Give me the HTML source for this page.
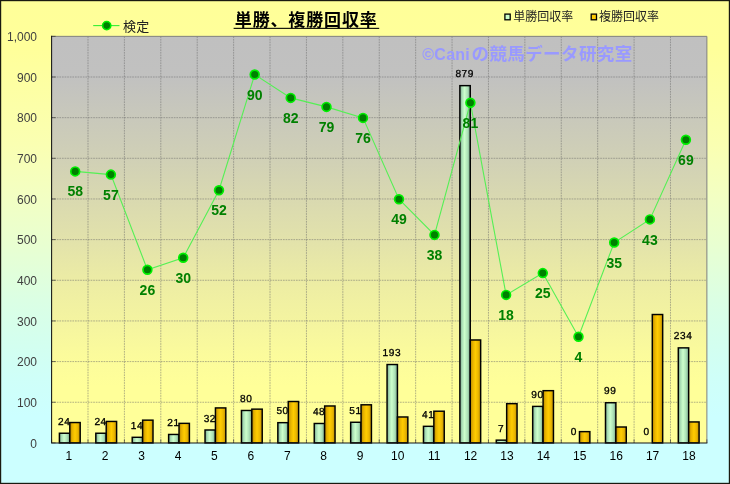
<!DOCTYPE html>
<html><head><meta charset="utf-8"><title>単勝、複勝回収率</title>
<style>
html,body{margin:0;padding:0;background:#fff;}
svg{display:block;will-change:transform;}
text{font-family:"Liberation Sans","Noto Sans CJK JP",sans-serif;}
.yl{font-size:12px;fill:#404040;text-anchor:end;}
.xl{font-size:12px;fill:#000;text-anchor:middle;}
.bl{font-size:10.1px;fill:#000;stroke:#000;stroke-width:0.3px;text-anchor:middle;letter-spacing:0.55px;text-rendering:geometricPrecision;}
.ml{font-size:14px;font-weight:bold;fill:#008000;text-anchor:middle;}
</style></head><body>
<svg width="730" height="484" viewBox="0 0 730 484">
<defs>
<linearGradient id="bg" x1="0" y1="0" x2="0" y2="1"><stop offset="0" stop-color="#FFFF99"/><stop offset="0.1" stop-color="#FFFF9A"/><stop offset="0.3" stop-color="#FAFFB2"/><stop offset="0.4" stop-color="#F3FFC2"/><stop offset="0.5" stop-color="#E9FFD0"/><stop offset="0.62" stop-color="#DBFFE4"/><stop offset="0.7" stop-color="#D4FFEE"/><stop offset="0.78" stop-color="#CFFFF8"/><stop offset="0.86" stop-color="#CCFFFF"/><stop offset="1" stop-color="#CCFFFF"/></linearGradient>
<linearGradient id="pg" x1="0" y1="0" x2="0" y2="1"><stop offset="0" stop-color="#C0C0C0"/><stop offset="0.1" stop-color="#C1C1C0"/><stop offset="0.3" stop-color="#D0D0B6"/><stop offset="0.4" stop-color="#D9D9B0"/><stop offset="0.5" stop-color="#E2E2AB"/><stop offset="0.62" stop-color="#EEEEA3"/><stop offset="0.7" stop-color="#F4F4A0"/><stop offset="0.78" stop-color="#FBFB9C"/><stop offset="0.86" stop-color="#FFFF99"/><stop offset="1" stop-color="#FFFF99"/></linearGradient>
<linearGradient id="gg" x1="0" y1="0" x2="1" y2="0"><stop offset="0" stop-color="#6E9A80"/><stop offset="0.2" stop-color="#A8DCB4"/><stop offset="0.45" stop-color="#CCFFCC"/><stop offset="0.75" stop-color="#ACE0B6"/><stop offset="1" stop-color="#729E84"/></linearGradient>
<linearGradient id="og" x1="0" y1="0" x2="1" y2="0"><stop offset="0" stop-color="#B48400"/><stop offset="0.25" stop-color="#E8B400"/><stop offset="0.5" stop-color="#FFCC00"/><stop offset="0.75" stop-color="#ECB800"/><stop offset="1" stop-color="#BC8C00"/></linearGradient>
</defs>
<rect x="0" y="0" width="730" height="484" fill="url(#bg)"/>
<rect x="0.6" y="0.6" width="728.8" height="482.8" fill="none" stroke="#1a1a10" stroke-width="1.2"/>
<rect x="51.6" y="36.35" width="655.29" height="406.55" fill="url(#pg)"/>
<path d="M88.00 36.35V442.9M124.41 36.35V442.9M160.81 36.35V442.9M197.22 36.35V442.9M233.62 36.35V442.9M270.03 36.35V442.9M306.44 36.35V442.9M342.84 36.35V442.9M379.25 36.35V442.9M415.65 36.35V442.9M452.06 36.35V442.9M488.46 36.35V442.9M524.87 36.35V442.9M561.27 36.35V442.9M597.68 36.35V442.9M634.08 36.35V442.9M670.49 36.35V442.9M51.6 402.25H706.89M51.6 361.59H706.89M51.6 320.94H706.89M51.6 280.28H706.89M51.6 239.62H706.89M51.6 198.97H706.89M51.6 158.31H706.89M51.6 117.66H706.89M51.6 77.00H706.89" fill="none" stroke="#6a6a6a" stroke-opacity="0.5" stroke-width="1" stroke-dasharray="1.7 0.9"/>
<text x="471.5" y="60" style="font-size:17.5px;font-weight:bold;fill:#9999FF;letter-spacing:0.4px">の競馬データ研究室</text>
<text x="422.3" y="60" style="font-size:16px;font-weight:bold;fill:#9999FF;letter-spacing:0.25px">©Cani</text>
<path d="M51.6 36.35H706.89V442.9" fill="none" stroke="#808080" stroke-width="1"/>
<rect x="59.40" y="433.24" width="10.40" height="9.66" fill="url(#gg)" stroke="#000" stroke-width="1.45"/>
<rect x="69.80" y="422.54" width="10.40" height="20.36" fill="url(#og)" stroke="#000" stroke-width="1.45"/>
<rect x="95.81" y="433.24" width="10.40" height="9.66" fill="url(#gg)" stroke="#000" stroke-width="1.45"/>
<rect x="106.21" y="421.45" width="10.40" height="21.45" fill="url(#og)" stroke="#000" stroke-width="1.45"/>
<rect x="132.21" y="437.31" width="10.40" height="5.59" fill="url(#gg)" stroke="#000" stroke-width="1.45"/>
<rect x="142.61" y="420.15" width="10.40" height="22.75" fill="url(#og)" stroke="#000" stroke-width="1.45"/>
<rect x="168.62" y="434.46" width="10.40" height="8.44" fill="url(#gg)" stroke="#000" stroke-width="1.45"/>
<rect x="179.02" y="423.36" width="10.40" height="19.54" fill="url(#og)" stroke="#000" stroke-width="1.45"/>
<rect x="205.02" y="429.99" width="10.40" height="12.91" fill="url(#gg)" stroke="#000" stroke-width="1.45"/>
<rect x="215.42" y="407.92" width="10.40" height="34.98" fill="url(#og)" stroke="#000" stroke-width="1.45"/>
<rect x="241.43" y="410.48" width="10.40" height="32.42" fill="url(#gg)" stroke="#000" stroke-width="1.45"/>
<rect x="251.83" y="409.14" width="10.40" height="33.76" fill="url(#og)" stroke="#000" stroke-width="1.45"/>
<rect x="277.83" y="422.67" width="10.40" height="20.23" fill="url(#gg)" stroke="#000" stroke-width="1.45"/>
<rect x="288.23" y="401.51" width="10.40" height="41.39" fill="url(#og)" stroke="#000" stroke-width="1.45"/>
<rect x="314.24" y="423.49" width="10.40" height="19.41" fill="url(#gg)" stroke="#000" stroke-width="1.45"/>
<rect x="324.64" y="405.98" width="10.40" height="36.92" fill="url(#og)" stroke="#000" stroke-width="1.45"/>
<rect x="350.64" y="422.27" width="10.40" height="20.63" fill="url(#gg)" stroke="#000" stroke-width="1.45"/>
<rect x="361.04" y="404.80" width="10.40" height="38.10" fill="url(#og)" stroke="#000" stroke-width="1.45"/>
<rect x="387.05" y="364.54" width="10.40" height="78.36" fill="url(#gg)" stroke="#000" stroke-width="1.45"/>
<rect x="397.45" y="416.98" width="10.40" height="25.92" fill="url(#og)" stroke="#000" stroke-width="1.45"/>
<rect x="423.45" y="426.33" width="10.40" height="16.57" fill="url(#gg)" stroke="#000" stroke-width="1.45"/>
<rect x="433.85" y="411.21" width="10.40" height="31.69" fill="url(#og)" stroke="#000" stroke-width="1.45"/>
<rect x="459.86" y="85.64" width="10.40" height="357.26" fill="url(#gg)" stroke="#000" stroke-width="1.45"/>
<rect x="470.26" y="339.98" width="10.40" height="102.92" fill="url(#og)" stroke="#000" stroke-width="1.45"/>
<rect x="496.26" y="440.15" width="10.40" height="2.75" fill="url(#gg)" stroke="#000" stroke-width="1.45"/>
<rect x="506.66" y="403.66" width="10.40" height="39.24" fill="url(#og)" stroke="#000" stroke-width="1.45"/>
<rect x="532.67" y="406.41" width="10.40" height="36.49" fill="url(#gg)" stroke="#000" stroke-width="1.45"/>
<rect x="543.07" y="390.67" width="10.40" height="52.23" fill="url(#og)" stroke="#000" stroke-width="1.45"/>
<rect x="579.47" y="431.64" width="10.40" height="11.26" fill="url(#og)" stroke="#000" stroke-width="1.45"/>
<rect x="605.48" y="402.75" width="10.40" height="40.15" fill="url(#gg)" stroke="#000" stroke-width="1.45"/>
<rect x="615.88" y="427.01" width="10.40" height="15.89" fill="url(#og)" stroke="#000" stroke-width="1.45"/>
<rect x="652.28" y="314.52" width="10.40" height="128.38" fill="url(#og)" stroke="#000" stroke-width="1.45"/>
<rect x="678.29" y="347.87" width="10.40" height="95.03" fill="url(#gg)" stroke="#000" stroke-width="1.45"/>
<rect x="688.69" y="421.94" width="10.40" height="20.96" fill="url(#og)" stroke="#000" stroke-width="1.45"/>
<path d="M51.6 442.90h4M51.6 402.25h4M51.6 361.59h4M51.6 320.94h4M51.6 280.28h4M51.6 239.62h4M51.6 198.97h4M51.6 158.31h4M51.6 117.66h4M51.6 77.00h4M51.6 36.35h4M51.60 442.9v-3.5M88.00 442.9v-3.5M124.41 442.9v-3.5M160.81 442.9v-3.5M197.22 442.9v-3.5M233.62 442.9v-3.5M270.03 442.9v-3.5M306.44 442.9v-3.5M342.84 442.9v-3.5M379.25 442.9v-3.5M415.65 442.9v-3.5M452.06 442.9v-3.5M488.46 442.9v-3.5M524.87 442.9v-3.5M561.27 442.9v-3.5M597.68 442.9v-3.5M634.08 442.9v-3.5M670.49 442.9v-3.5M706.89 442.9v-3.5" fill="none" stroke="#222" stroke-opacity="0.6" stroke-width="1"/>
<path d="M51.6 35.85V442.9H707.39" fill="none" stroke="#151515" stroke-width="1.05"/>
<polyline points="75.2,171.4 110.9,174.6 147.4,269.7 183.2,257.8 219.0,190.2 254.7,74.5 290.7,97.9 326.5,106.9 363.0,117.9 399.0,199.2 434.5,234.9 470.4,102.8 506.1,294.9 542.8,273.1 578.5,336.7 614.2,242.5 649.9,219.4 685.9,139.8" fill="none" stroke="#55F055" stroke-width="1.1"/>
<circle cx="75.2" cy="171.4" r="4.4" fill="#008000" stroke="#00F000" stroke-width="1.7"/>
<circle cx="110.9" cy="174.6" r="4.4" fill="#008000" stroke="#00F000" stroke-width="1.7"/>
<circle cx="147.4" cy="269.7" r="4.4" fill="#008000" stroke="#00F000" stroke-width="1.7"/>
<circle cx="183.2" cy="257.8" r="4.4" fill="#008000" stroke="#00F000" stroke-width="1.7"/>
<circle cx="219.0" cy="190.2" r="4.4" fill="#008000" stroke="#00F000" stroke-width="1.7"/>
<circle cx="254.7" cy="74.5" r="4.4" fill="#008000" stroke="#00F000" stroke-width="1.7"/>
<circle cx="290.7" cy="97.9" r="4.4" fill="#008000" stroke="#00F000" stroke-width="1.7"/>
<circle cx="326.5" cy="106.9" r="4.4" fill="#008000" stroke="#00F000" stroke-width="1.7"/>
<circle cx="363.0" cy="117.9" r="4.4" fill="#008000" stroke="#00F000" stroke-width="1.7"/>
<circle cx="399.0" cy="199.2" r="4.4" fill="#008000" stroke="#00F000" stroke-width="1.7"/>
<circle cx="434.5" cy="234.9" r="4.4" fill="#008000" stroke="#00F000" stroke-width="1.7"/>
<circle cx="470.4" cy="102.8" r="4.4" fill="#008000" stroke="#00F000" stroke-width="1.7"/>
<circle cx="506.1" cy="294.9" r="4.4" fill="#008000" stroke="#00F000" stroke-width="1.7"/>
<circle cx="542.8" cy="273.1" r="4.4" fill="#008000" stroke="#00F000" stroke-width="1.7"/>
<circle cx="578.5" cy="336.7" r="4.4" fill="#008000" stroke="#00F000" stroke-width="1.7"/>
<circle cx="614.2" cy="242.5" r="4.4" fill="#008000" stroke="#00F000" stroke-width="1.7"/>
<circle cx="649.9" cy="219.4" r="4.4" fill="#008000" stroke="#00F000" stroke-width="1.7"/>
<circle cx="685.9" cy="139.8" r="4.4" fill="#008000" stroke="#00F000" stroke-width="1.7"/>
<text class="ml" x="75.2" y="196.0">58</text>
<text class="ml" x="110.9" y="199.8">57</text>
<text class="ml" x="147.4" y="294.9">26</text>
<text class="ml" x="183.2" y="283.0">30</text>
<text class="ml" x="219.0" y="215.4">52</text>
<text class="ml" x="254.7" y="99.7">90</text>
<text class="ml" x="290.7" y="123.1">82</text>
<text class="ml" x="326.5" y="132.1">79</text>
<text class="ml" x="363.0" y="142.5">76</text>
<text class="ml" x="399.0" y="224.4">49</text>
<text class="ml" x="434.5" y="259.5">38</text>
<text class="ml" x="470.4" y="128.0">81</text>
<text class="ml" x="506.1" y="320.1">18</text>
<text class="ml" x="542.8" y="298.3">25</text>
<text class="ml" x="578.5" y="361.9">4</text>
<text class="ml" x="614.2" y="267.7">35</text>
<text class="ml" x="649.9" y="244.6">43</text>
<text class="ml" x="685.9" y="165.0">69</text>
<text class="bl" x="64.20" y="424.84">24</text>
<text class="bl" x="100.61" y="424.84">24</text>
<text class="bl" x="137.01" y="428.91">14</text>
<text class="bl" x="173.42" y="426.06">21</text>
<text class="bl" x="209.82" y="421.59">32</text>
<text class="bl" x="246.23" y="402.08">80</text>
<text class="bl" x="282.63" y="414.27">50</text>
<text class="bl" x="319.04" y="415.09">48</text>
<text class="bl" x="355.44" y="413.87">51</text>
<text class="bl" x="391.85" y="356.14">193</text>
<text class="bl" x="428.25" y="417.93">41</text>
<text class="bl" x="464.66" y="77.24">879</text>
<text class="bl" x="501.06" y="431.75">7</text>
<text class="bl" x="537.47" y="398.01">90</text>
<text class="bl" x="573.87" y="434.60">0</text>
<text class="bl" x="610.28" y="394.35">99</text>
<text class="bl" x="646.68" y="434.60">0</text>
<text class="bl" x="683.09" y="339.47">234</text>
<text class="yl" x="37.0" y="447.50">0</text>
<text class="yl" x="37.0" y="406.85">100</text>
<text class="yl" x="37.0" y="366.19">200</text>
<text class="yl" x="37.0" y="325.54">300</text>
<text class="yl" x="37.0" y="284.88">400</text>
<text class="yl" x="37.0" y="244.22">500</text>
<text class="yl" x="37.0" y="203.57">600</text>
<text class="yl" x="37.0" y="162.91">700</text>
<text class="yl" x="37.0" y="122.26">800</text>
<text class="yl" x="37.0" y="81.60">900</text>
<text class="yl" x="37.0" y="40.95">1,000</text>
<text class="xl" x="68.80" y="459.7">1</text>
<text class="xl" x="105.21" y="459.7">2</text>
<text class="xl" x="141.61" y="459.7">3</text>
<text class="xl" x="178.02" y="459.7">4</text>
<text class="xl" x="214.42" y="459.7">5</text>
<text class="xl" x="250.83" y="459.7">6</text>
<text class="xl" x="287.23" y="459.7">7</text>
<text class="xl" x="323.64" y="459.7">8</text>
<text class="xl" x="360.04" y="459.7">9</text>
<text class="xl" x="397.75" y="459.7">10</text>
<text class="xl" x="434.15" y="459.7">11</text>
<text class="xl" x="470.56" y="459.7">12</text>
<text class="xl" x="506.96" y="459.7">13</text>
<text class="xl" x="543.37" y="459.7">14</text>
<text class="xl" x="579.77" y="459.7">15</text>
<text class="xl" x="616.18" y="459.7">16</text>
<text class="xl" x="652.58" y="459.7">17</text>
<text class="xl" x="688.99" y="459.7">18</text>
<text x="234.8" y="26" style="font-size:17px;font-weight:bold;fill:#000;letter-spacing:0.85px">単勝、複勝回収率</text>
<rect x="233.6" y="27.8" width="145.6" height="1.1" fill="#000"/>
<path d="M93.2 25.6H119.5" stroke="#33F033" stroke-width="1.1"/>
<circle cx="106.7" cy="25.6" r="4.1" fill="#008000" stroke="#00F000" stroke-width="1.6"/>
<text x="123" y="30.5" style="font-size:13px;fill:#222;letter-spacing:0.3px">検定</text>
<rect x="504.9" y="14.1" width="5.3" height="5.7" fill="#CCFFCC" stroke="#000" stroke-width="1.3"/>
<rect x="591.2" y="14.1" width="5.3" height="5.7" fill="#FFCC00" stroke="#000" stroke-width="1.3"/>
<text x="513.3" y="21" style="font-size:12px;fill:#222">単勝回収率</text>
<text x="599" y="21" style="font-size:12px;fill:#222">複勝回収率</text>
</svg></body></html>
